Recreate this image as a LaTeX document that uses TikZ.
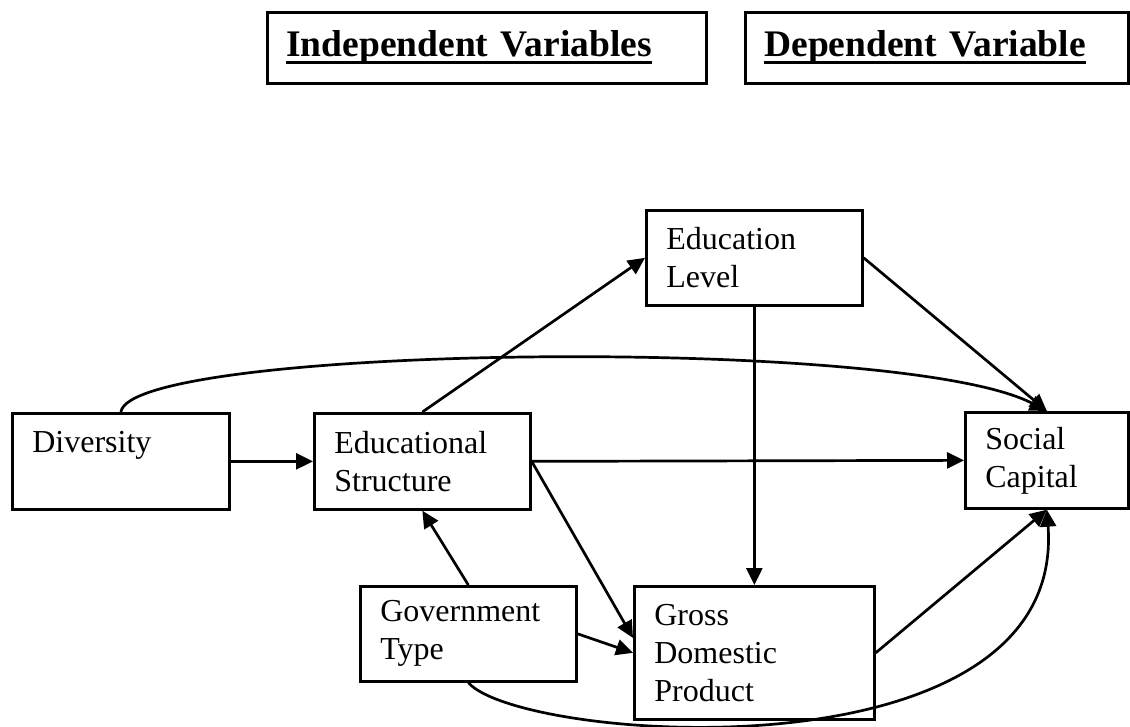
\documentclass[tikz,border=0pt]{standalone}
\usepackage{fontspec}
\setmainfont{Liberation Serif}
\usetikzlibrary{arrows.meta}
\newsavebox{\headbox}
\newcommand{\headline}[1]{\sbox{\headbox}{#1}\rlap{\rule[-7.5pt]{\wd\headbox}{3.5pt}}\usebox{\headbox}}

\begin{document}
\begin{tikzpicture}[x=1pt,y=-1pt,
  var/.style={rectangle,draw,line width=2.7pt,anchor=north west,inner xsep=20pt,inner ysep=0pt,align=left,font=\fontsize{32}{38}\selectfont},
  head/.style={rectangle,draw,line width=2.7pt,anchor=north west,inner xsep=19pt,inner ysep=0pt,align=left,minimum height=71pt,font=\fontsize{37.5}{44}\selectfont\bfseries},
  arr/.style={-{Triangle[length=17pt,width=16pt]},line width=2.7pt},
]
\useasboundingbox (0,0) rectangle (1130,727);

% Headings
\node[head,text width=401pt] (indep) at (266,11) {\headline{Independent Variables}};
\node[head,text width=345pt] (dep) at (744,11) {\headline{Dependent Variable}};

% Variables
\node[var,text width=177pt,minimum height=96pt] (div) at (11,412) {Diversity\\\mbox{}};
\node[var,text width=176pt,minimum height=96pt] (es) at (313,412) {Educational\\Structure};
\node[var,text width=176pt,minimum height=95pt] (el) at (645,209) {Education\\Level};
\node[var,text width=123pt,minimum height=96pt] (sc) at (964,411) {Social\\Capital};
\node[var,text width=176pt,minimum height=95pt] (gov) at (359,585) {Government\\Type};
\node[var,text width=200pt,minimum height=133pt] (gdp) at (633,585) {Gross\\Domestic\\Product};

% Straight paths
\draw[arr] (div.east) -- (es.west);
\draw[arr] (es.north) -- (el.west);
\draw[arr] (es.east) -- (sc.west);
\draw[arr] (es.east) -- (gdp.173);
\draw[arr] (el.south) -- (gdp.north);
\draw[arr] (el.east) -- (sc.north);
\draw[arr] (gov.north) -- (es.south);
\draw[arr] (gov.east) -- (gdp.west);
\draw[arr] (gdp.east) -- (sc.south);

% Curved paths
\draw[arr] (div.north) .. controls +(10,-67) and +(-145,-76) .. (sc.north);
\draw[arr] (gov.south) .. controls +(53,60) and +(20,273) .. (sc.south);

\end{tikzpicture}
\end{document}
